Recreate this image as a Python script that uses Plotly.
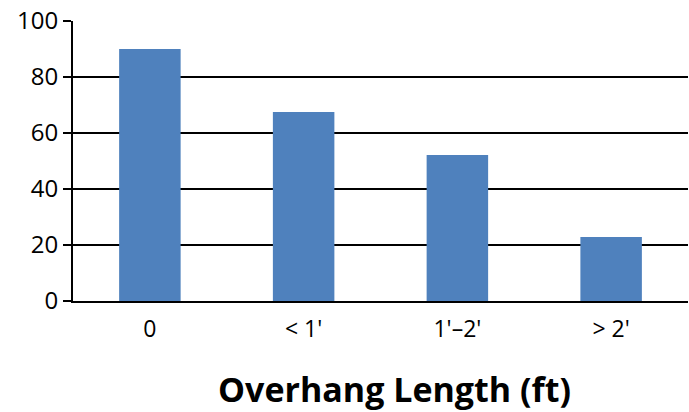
import plotly.graph_objects as go

categories = ["0", "< 1'", "1'\u20132'", "> 2'"]
values = [90, 67.5, 52.1, 22.9]
y_ticks = [0, 20, 40, 60, 80, 100]

fig = go.Figure(go.Bar(x=categories, y=values, marker=dict(color="#4F81BD", line=dict(width=0)),
                       hoverinfo="skip"))

fig.update_layout(
    width=689, height=412,
    margin=dict(l=73, r=1, t=21, b=111, autoexpand=False),
    paper_bgcolor="white", plot_bgcolor="white",
    bargap=0.6,
    showlegend=False,
    font=dict(family="Open Sans", size=24, color="black"),
)
fig.update_xaxes(showline=True, linecolor="black", linewidth=2, ticks="", showgrid=False,
                 tickfont=dict(size=23), zeroline=False, automargin=False, ticklabelstandoff=6)
fig.update_yaxes(range=[0, 100], tickvals=y_ticks, showgrid=True, gridcolor="black", gridwidth=2,
                 showline=True, linecolor="black", linewidth=2, ticks="outside", ticklen=8,
                 tickwidth=2, tickcolor="black", zeroline=False, tickfont=dict(size=24),
                 automargin=False)
fig.add_annotation(text="<b>Overhang Length (ft)</b>", xref="paper", yref="paper",
                   x=0.523, y=-0.314, xanchor="center", yanchor="middle", showarrow=False,
                   font=dict(size=34, family="Open Sans", color="black"))
fig.write_html("out.html", config={"displayModeBar": False},
               post_script="document.body.style.margin='0';document.body.style.padding='0';")
